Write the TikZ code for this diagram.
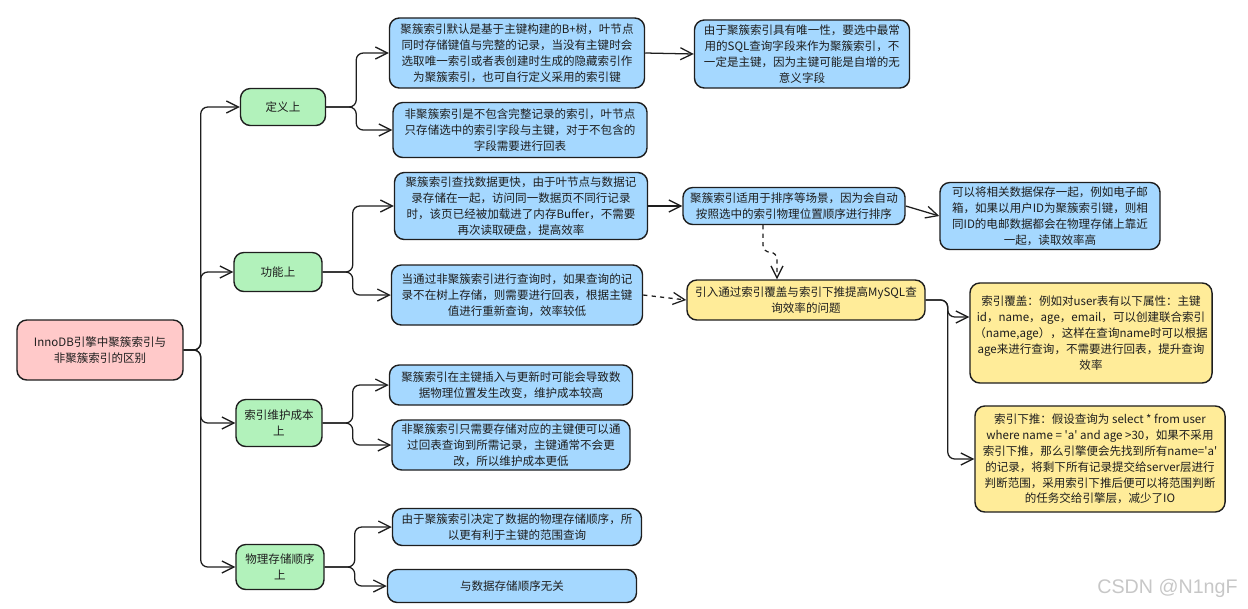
\documentclass[tikz,border=0pt]{standalone}
\usepackage{fontspec}
\setmainfont{Noto Sans CJK SC}[Ligatures=TeXOff]
\newfontfamily\wmfont{Liberation Sans}
\usetikzlibrary{%
  arrows.meta,%
  positioning,%
  calc%
}
\definecolor{inkgray}{HTML}{1E1E1E}
\definecolor{rootpink}{HTML}{FFC9C9}
\definecolor{leafgreen}{HTML}{B2F2BB}
\definecolor{notblue}{HTML}{A5D8FF}
\definecolor{noteyellow}{HTML}{FFEC99}

\begin{document}
\begin{tikzpicture}
  [
  x=0.025cm, y=-0.025cm,
  line width=0.9pt, draw=inkgray,
  box/.style={rectangle, rounded corners=7pt, draw=inkgray, line width=1pt,
    text=inkgray, align=center, inner sep=0pt,
    font=\fontsize{8.2}{11.3}\selectfont},
  rootnode/.style={box, fill=rootpink},
  greennode/.style={box, fill=leafgreen},
  bluenode/.style={box, fill=notblue},
  yellownode/.style={box, fill=noteyellow},
  arr/.style={-{Straight Barb[length=3mm,width=3mm]}, rounded corners=5pt, draw=inkgray}
  ]
  \useasboundingbox (0,0) rectangle (1248,608);

  % root
  \node[rootnode, minimum width=4.15cm, minimum height=1.5cm] (root) at (100,350)
    {InnoDB引擎中聚簇索引与\\非聚簇索引的区别};

  % second level
  \node[greennode, minimum width=2.125cm, minimum height=0.925cm] (g1) at (283,107) {定义上};
  \node[greennode, minimum width=2.2cm, minimum height=0.975cm] (g2) at (278,272) {功能上};
  \node[greennode, minimum width=2.15cm, minimum height=1.175cm] (g3) at (279,423) {索引维护成本\\上};
  \node[greennode, minimum width=2.2cm, minimum height=1.125cm] (g4) at (280,567) {物理存储顺序\\上};

  % definition
  \node[bluenode, minimum width=6.375cm, minimum height=1.75cm] (b1) at (517,53)
    {聚簇索引默认是基于主键构建的B+树，叶节点\\同时存储键值与完整的记录，当没有主键时会\\
     选取唯一索引或者表创建时生成的隐藏索引作\\为聚簇索引，也可自行定义采用的索引键};
  \node[bluenode, minimum width=6.35cm, minimum height=1.375cm] (b2) at (520,130)
    {非聚簇索引是不包含完整记录的索引，叶节点\\只存储选中的索引字段与主键，对于不包含的\\字段需要进行回表};
  \node[bluenode, minimum width=5.375cm, minimum height=1.7cm] (b3) at (802,54)
    {由于聚簇索引具有唯一性，要选中最常\\用的SQL查询字段来作为聚簇索引，不\\一定是主键，因为主键可能是自增的无\\意义字段};

  % function
  \node[bluenode, minimum width=6.325cm, minimum height=1.675cm] (b4) at (521,206)
    {聚簇索引查找数据更快，由于叶节点与数据记\\录存储在一起，访问同一数据页不同行记录\\
     时，该页已经被加载进了内存Buffer，不需要\\再次读取硬盘，提高效率};
  \node[bluenode, minimum width=6.275cm, minimum height=1.5cm] (b5) at (517,295)
    {当通过非聚簇索引进行查询时，如果查询的记\\录不在树上存储，则需要进行回表，根据主键\\值进行重新查询，效率较低};
  \node[bluenode, minimum width=5.55cm, minimum height=0.925cm] (b6) at (794,206)
    {聚簇索引适用于排序等场景，因为会自动\\按照选中的索引物理位置顺序进行排序};
  \node[bluenode, minimum width=5.5cm, minimum height=1.675cm] (b7) at (1050,216)
    {可以将相关数据保存一起，例如电子邮\\箱，如果以用户ID为聚簇索引键，则相\\同ID的电邮数据都会在物理存储上靠近\\一起，读取效率高};
  \node[yellownode, minimum width=5.95cm, minimum height=1.0cm] (y1) at (806,300)
    {引入通过索引覆盖与索引下推提高MySQL查\\询效率的问题};
  \node[yellownode, minimum width=6.05cm, minimum height=2.5cm] (y2) at (1091,333)
    {索引覆盖：例如对user表有以下属性：主键\\id，name，age，email，可以创建联合索引\\
     （name,age），这样在查询name时可以根据\\age来进行查询，不需要进行回表，提升查询\\效率};
  \node[yellownode, minimum width=6.25cm, minimum height=2.65cm] (y3) at (1100,459)
    {索引下推：假设查询为 select * from user\\where name = 'a' and age >30，如果不采用\\
     索引下推，那么引擎便会先找到所有name='a'\\的记录，将剩下所有记录提交给server层进行\\
     判断范围，采用索引下推后便可以将范围判断\\的任务交给引擎层，减少了IO};

  % maintenance
  \node[bluenode, minimum width=6.075cm, minimum height=1.0cm] (b8) at (511,385)
    {聚簇索引在主键插入与更新时可能会导致数\\据物理位置发生改变，维护成本较高};
  \node[bluenode, minimum width=5.95cm, minimum height=1.25cm] (b9) at (511,445)
    {非聚簇索引只需要存储对应的主键便可以通\\过回表查询到所需记录，主键通常不会更\\改，所以维护成本更低};

  % storage order
  \node[bluenode, minimum width=6.225cm, minimum height=0.925cm] (b10) at (517,527)
    {由于聚簇索引决定了数据的物理存储顺序，所\\以更有利于主键的范围查询};
  \node[bluenode, minimum width=6.225cm, minimum height=0.825cm] (b11) at (512,586)
    {与数据存储顺序无关};

  \foreach \g in {g1,g2,g3,g4} {
    \draw[arr] (root.east) -- ++(17,0) |- (\g.west);
  }

  \foreach \g/\b in {g1/b1, g1/b2, g2/b4, g2/b5, g3/b8, g3/b9, g4/b10, g4/b11} {
    \draw[arr] (\g.east) -- ++(30,0) |- (\b.west);
  }

  \draw[arr] (b1.east) -- (b3.west);
  \draw[arr] (b4.east) -- (b6.west);
  \draw[arr] (b6.east) -- (b7.west);
  \draw[arr, dashed] (b5.east) -- (y1.west);
  \draw[arr, dashed] ([xshift=-0.775cm]b6.south) -- ++(0,27) -| ([xshift=-0.725cm]y1.north);
  \draw[arr] (y1.east) -- ++(22,0) |- ([yshift=0.4cm]y2.west);
  \draw[arr] (y1.east) -- ++(22,0) |- (y3.west);

  \node[font=\wmfont\fontsize{14}{14}\selectfont, text=black!22, anchor=east] (wm) at (1243,588) {CSDN @N1ngF};
\end{tikzpicture}
\end{document}
